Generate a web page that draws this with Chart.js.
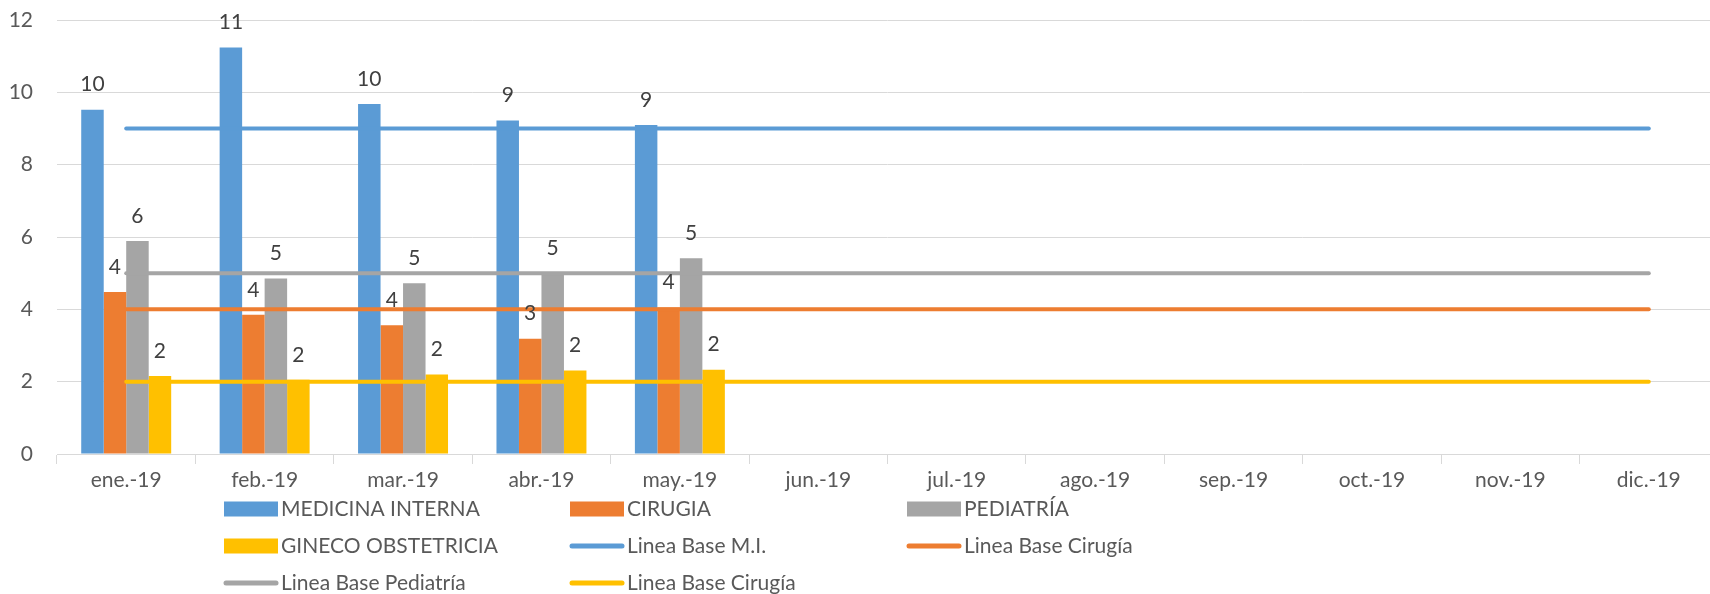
<!DOCTYPE html>
<html>
<head>
<meta charset="utf-8">
<script src="https://cdn.jsdelivr.net/npm/chart.js@4/dist/chart.umd.min.js"></script>
<style>
    html, body { margin: 0; padding: 0; background: #fff; overflow: hidden; }
    /* the original plot runs a little past the right edge, so the canvas is wider than the window */
    #chart { display: block; }
</style>
</head>
<body>
<canvas id="chart" width="1718" height="594"></canvas>
<script>
const months = ['ene.-19', 'feb.-19', 'mar.-19', 'abr.-19', 'may.-19', 'jun.-19',
    'jul.-19', 'ago.-19', 'sep.-19', 'oct.-19', 'nov.-19', 'dic.-19'];

// monthly values (only jan-may reported)
const medicinaInterna = [9.52, 11.24, 9.68, 9.22, 9.1];
const cirugia = [4.48, 3.85, 3.56, 3.19, 4.05];
const pediatria = [5.89, 4.85, 4.72, 5.0, 5.41];
const ginecoObstetricia = [2.16, 2.05, 2.2, 2.31, 2.33];

// base lines
const baseMI = [9, 9, 9, 9, 9, 9, 9, 9, 9, 9, 9, 9];
const baseCirugia = [4, 4, 4, 4, 4, 4, 4, 4, 4, 4, 4, 4];
const basePediatria = [5, 5, 5, 5, 5, 5, 5, 5, 5, 5, 5, 5];
const baseGineco = [2, 2, 2, 2, 2, 2, 2, 2, 2, 2, 2, 2];

const yMin = 0;
const yMax = 12;
const yStep = 2;

const FONT = 'Lato, "Open Sans", sans-serif';
const FONT_SIZE = 21;
const TEXT = '#595959';
const GRID = '#d9d9d9';

// legend grid: columns x, rows y
const legendCols = [224, 570, 907];
const legendRows = [509, 546, 583];

const barLabels = {
    id: 'barLabels',
    afterDatasetsDraw(chart) {
        const ctx = chart.ctx;
        ctx.save();
        ctx.font = FONT_SIZE + 'px ' + FONT;
        ctx.fillStyle = '#404040';
        ctx.textAlign = 'center';
        ctx.textBaseline = 'middle';
        chart.data.datasets.forEach((ds, i) => {
            if (ds.type !== 'bar') return;
            chart.getDatasetMeta(i).data.forEach((el, j) => {
                const v = ds.data[j];
                if (v == null) return;
                ctx.fillText(Math.round(v), el.x, el.y - 25);
            });
        });
        ctx.restore();
    }
};

const gridLegend = {
    id: 'gridLegend',
    afterDraw(chart) {
        const ctx = chart.ctx;
        ctx.save();
        ctx.font = FONT_SIZE + 'px ' + FONT;
        ctx.textBaseline = 'middle';
        ctx.textAlign = 'left';
        chart.data.datasets.forEach((ds, i) => {
            const x = legendCols[i % 3];
            const y = legendRows[Math.floor(i / 3)];
            const color = ds.type === 'bar' ? ds.backgroundColor : ds.borderColor;
            if (ds.type === 'bar') {
                ctx.fillStyle = color;
                ctx.fillRect(x, y - 7.5, 54, 15);
            } else {
                ctx.strokeStyle = color;
                ctx.lineWidth = 5;
                ctx.lineCap = 'round';
                ctx.beginPath();
                ctx.moveTo(x + 2, y);
                ctx.lineTo(x + 52, y);
                ctx.stroke();
            }
            ctx.fillStyle = TEXT;
            ctx.fillText(ds.label, x + 57, y);
        });
        ctx.restore();
    }
};

function barSet(label, data, color) {
    return {
        type: 'bar',
        label: label,
        data: data,
        backgroundColor: color,
        order: 1,
        barPercentage: 1.0,
        categoryPercentage: 0.65
    };
}

function lineSet(label, data, color) {
    return {
        type: 'line',
        label: label,
        data: data,
        borderColor: color,
        backgroundColor: color,
        borderWidth: 4,
        borderCapStyle: 'round',
        pointRadius: 0,
        fill: false,
        order: 0
    };
}

new Chart(document.getElementById('chart'), {
    data: {
        labels: months,
        datasets: [
            barSet('MEDICINA INTERNA', medicinaInterna, '#5B9BD5'),
            barSet('CIRUGIA', cirugia, '#ED7D31'),
            barSet('PEDIATRÍA', pediatria, '#A5A5A5'),
            barSet('GINECO OBSTETRICIA', ginecoObstetricia, '#FFC000'),
            lineSet('Linea Base M.I.', baseMI, '#5B9BD5'),
            lineSet('Linea Base Cirugía', baseCirugia, '#ED7D31'),
            lineSet('Linea Base Pediatría', basePediatria, '#A5A5A5'),
            lineSet('Linea Base Cirugía', baseGineco, '#FFC000')
        ]
    },
    options: {
        responsive: false,
        animation: false,
        devicePixelRatio: 1,
        layout: {
            padding: { top: 20, right: 0, bottom: 84, left: 0 }
        },
        plugins: {
            legend: { display: false },
            tooltip: { enabled: false }
        },
        scales: {
            x: {
                grid: {
                    display: true,
                    drawOnChartArea: false,
                    drawTicks: true,
                    tickLength: 10,
                    color: GRID,
                    offset: true
                },
                border: { color: GRID },
                ticks: {
                    font: { family: FONT, size: FONT_SIZE },
                    color: TEXT,
                    padding: 4,
                    maxRotation: 0,
                    autoSkip: false
                },
                afterFit(scale) {
                    scale.height = 56;
                    scale.paddingLeft = 0;
                    scale.paddingRight = 0;
                }
            },
            y: {
                min: yMin,
                max: yMax,
                ticks: {
                    stepSize: yStep,
                    font: { family: FONT, size: FONT_SIZE },
                    color: TEXT,
                    padding: 24
                },
                grid: {
                    color: GRID,
                    drawTicks: false
                },
                border: { display: false },
                afterFit(scale) {
                    scale.width = 57;
                    scale.paddingTop = 0;
                    scale.paddingBottom = 0;
                }
            }
        }
    },
    plugins: [barLabels, gridLegend]
});
</script>
</body>
</html>
